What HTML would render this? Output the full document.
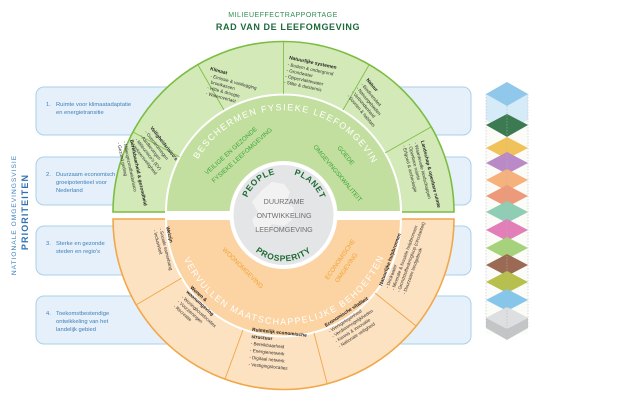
<!DOCTYPE html>
<html><head><meta charset="utf-8"><style>
body{margin:0;background:#fff;}
svg{display:block;font-family:"Liberation Sans",sans-serif;}
.seg{font-size:4.6px;fill:#333;}
.segb{font-size:4.8px;fill:#222;font-weight:bold;}
.box{fill:#e5f0fa;stroke:#a9d0ea;stroke-width:1;}
.bt{font-size:5.8px;fill:#3f7fb9;}
</style></head><body>
<svg width="639" height="402" viewBox="0 0 639 402" xmlns="http://www.w3.org/2000/svg">
<defs>
<path id="topArc" d="M 196.4 162.0 A 100 100 0 0 1 371.6 162.0"/>
<path id="botArc" d="M 182.5 255.0 A 108 108 0 0 0 384.5 255.0"/>
<path id="peopleArc" d="M 245 205 A 40 40 0 0 1 283 173"/>
<path id="planetArc" d="M 283 173 A 40 40 0 0 1 323 210"/>
<path id="prospArc" d="M 242 232 A 44 44 0 0 0 325 232"/>
</defs>

<!-- title -->
<text x="283" y="17" text-anchor="middle" font-size="7" fill="#2f8c50" letter-spacing="0.5">MILIEUEFFECTRAPPORTAGE</text>
<text x="288" y="30" text-anchor="middle" font-size="9" font-weight="bold" fill="#1f6a3b" letter-spacing="0.6">RAD VAN DE LEEFOMGEVING</text>

<!-- vertical labels -->
<text transform="translate(16,215) rotate(-90)" text-anchor="middle" font-size="6.6" fill="#3f80bb" letter-spacing="1">NATIONALE  OMGEVINGSVISIE</text>
<text transform="translate(28,212) rotate(-90)" text-anchor="middle" font-size="9" font-weight="bold" fill="#2f72b2" letter-spacing="1.1">PRIORITEITEN</text>

<!-- boxes -->
<rect class="box" x="36" y="87" width="435" height="48" rx="8"/>
<rect class="box" x="36" y="157" width="435" height="48" rx="8"/>
<rect class="box" x="36" y="226" width="435" height="49" rx="8"/>
<rect class="box" x="36" y="296" width="435" height="48" rx="8"/>
<text class="bt" x="46" y="106">1.</text><text class="bt" x="56" y="106">Ruimte voor klimaatadaptatie</text><text class="bt" x="56" y="114">en energietransitie</text>
<text class="bt" x="46" y="176">2.</text><text class="bt" x="56" y="176">Duurzaam economisch</text><text class="bt" x="56" y="184">groeipotentieel voor</text><text class="bt" x="56" y="192">Nederland</text>
<text class="bt" x="46" y="245">3.</text><text class="bt" x="56" y="245">Sterke en gezonde</text><text class="bt" x="56" y="253">steden en regio's</text>
<text class="bt" x="46" y="315">4.</text><text class="bt" x="56" y="315">Toekomstbestendige</text><text class="bt" x="56" y="323">ontwikkeling van het</text><text class="bt" x="56" y="331">landelijk gebied</text>

<!-- wheel green -->
<path d="M 113 212 A 170.5 170.5 0 0 1 454 212 Z" fill="#d3e9b7" stroke="#7bbd41" stroke-width="1.6"/>
<path d="M 166 212 A 117.5 117.5 0 0 1 401 212 Z" fill="#c3df9f" stroke="#fff" stroke-width="2"/>
<!-- wheel orange -->
<path d="M 113 219 A 170.5 170.5 0 0 0 454 219 Z" fill="#fde2c1" stroke="#f0a84a" stroke-width="1.6"/>
<path d="M 166 219 A 117.5 117.5 0 0 0 401 219 Z" fill="#fcd3a2" stroke="#fff" stroke-width="2"/>

<g stroke="#82c04a" stroke-width="0.9">
<line x1="179.7" y1="157" x2="133" y2="132"/>
<line x1="224" y1="110" x2="198" y2="65"/>
<line x1="283.5" y1="94" x2="283.5" y2="42"/>
<line x1="343" y1="110" x2="369" y2="65"/>
<line x1="385" y1="153" x2="431" y2="127"/>
</g>
<g stroke="#efa64a" stroke-width="0.9">
<line x1="181.7" y1="278" x2="136" y2="305"/>
<line x1="243" y1="330" x2="225" y2="379"/>
<line x1="314" y1="333" x2="327" y2="383"/>
<line x1="375" y1="293" x2="416" y2="326"/>
</g>

<!-- curved band labels -->
<text font-size="9" fill="#fff"><textPath href="#topArc" startOffset="3" textLength="220" lengthAdjust="spacing">BESCHERMEN  FYSIEKE LEEFOMGEVING</textPath></text>
<text font-size="9" fill="#fff"><textPath href="#botArc" startOffset="4" textLength="254" lengthAdjust="spacing">VERVULLEN MAATSCHAPPELIJKE BEHOEFTEN</textPath></text>

<!-- middle band labels -->
<g fill="#3aa63a" font-size="6.3">
<text transform="translate(207,175) rotate(-42)">VEILIGE EN GEZONDE</text>
<text transform="translate(214,183) rotate(-42)">FYSIEKE LEEFOMGEVING</text>
<text transform="translate(337,148) rotate(50)">GOEDE</text>
<text transform="translate(313,147) rotate(50)">OMGEVINGSKWALITEIT</text>
</g>
<g fill="#f0a435" font-size="6.3">
<text transform="translate(222,250) rotate(45)">WOONOMGEVING</text>
<text transform="translate(328,280) rotate(-55)">ECONOMISCHE</text>
<text transform="translate(338,283) rotate(-55)">OMGEVING</text>
</g>

<!-- center -->
<circle cx="283.5" cy="215" r="52" fill="#e4e5e6" stroke="#fff" stroke-width="4"/>
<path d="M262 190 l10 -8 l12 2 l6 8 l-4 10 l8 6 l-2 12 l-8 6 l-12 -2 l-6 8 l-10 -2 l-4 -10 l6 -8 l-6 -10 z" fill="#f2f2f2"/>
<text font-size="8.5" font-weight="bold" fill="#1d6b36" letter-spacing="0.6"><textPath href="#peopleArc" startOffset="50%" text-anchor="middle">PEOPLE</textPath></text>
<text font-size="8.5" font-weight="bold" fill="#1d6b36" letter-spacing="0.6"><textPath href="#planetArc" startOffset="50%" text-anchor="middle">PLANET</textPath></text>
<text font-size="8.5" font-weight="bold" fill="#1d6b36" letter-spacing="0.6"><textPath href="#prospArc" startOffset="50%" text-anchor="middle">PROSPERITY</textPath></text>
<g fill="#707070" font-size="7.2" text-anchor="middle">
<text x="284" y="204">DUURZAME</text>
<text x="284" y="218">ONTWIKKELING</text>
<text x="284" y="232">LEEFOMGEVING</text>
</g>

<!-- segment texts green -->
<g transform="translate(210,70) rotate(15)">
<text class="segb" x="0" y="0">Klimaat</text>
<text class="seg" x="2" y="7">- Emissie &amp; vastlegging</text>
<text class="seg" x="4" y="13">broeikassen</text>
<text class="seg" x="2" y="19">- Hitte &amp; droogte</text>
<text class="seg" x="2" y="25">- Wateroverlast</text>
</g>
<g transform="translate(289,59) rotate(12)">
<text class="segb" x="0" y="0">Natuurlijke systemen</text>
<text class="seg" x="0" y="7">- Bodem &amp; ondergrond</text>
<text class="seg" x="0" y="13">- Grondwater</text>
<text class="seg" x="0" y="19">- Oppervlaktewater</text>
<text class="seg" x="0" y="25">- Stilte &amp; duisternis</text>
</g>
<g transform="translate(150,128) rotate(52)">
<text class="segb" x="0" y="0">Veiligheidsrisico's</text>
<text class="seg" x="0" y="7">- Overstromingen</text>
<text class="seg" x="0" y="13">- Aardbevingen</text>
<text class="seg" x="0" y="19">- Milieurisico's (EV)</text>
<text class="seg" x="0" y="25">- Verkeersveiligheid</text>
</g>
<g transform="translate(130,140) rotate(78)">
<text class="segb" x="0" y="0">Bereikbaarheid &amp; gezondheid</text>
<text class="seg" x="0" y="7">- Milieugezondheidsrisico</text>
<text class="seg" x="0" y="13">- Gezond gedrag</text>
</g>
<g transform="translate(366,80) rotate(50)">
<text class="segb" x="0" y="0">Natuur</text>
<text class="seg" x="0" y="7">- Biodiversiteit</text>
<text class="seg" x="0" y="13">- Natuurgebieden</text>
<text class="seg" x="0" y="19">- Verbondenheid</text>
<text class="seg" x="0" y="25">- Soorten &amp; habitats</text>
</g>
<g transform="translate(421,141) rotate(76)">
<text class="segb" x="0" y="0">Landschap &amp; openbare ruimte</text>
<text class="seg" x="0" y="7">- Waardevolle landschappen</text>
<text class="seg" x="0" y="13">- Openbare ruimte</text>
<text class="seg" x="0" y="19">- Erfgoed &amp; archeologie</text>
</g>

<!-- segment texts orange -->
<g transform="translate(166,227) rotate(76)">
<text class="segb" x="0" y="0">Welzijn</text>
<text class="seg" x="0" y="7">- Sociale samenhang</text>
<text class="seg" x="0" y="13">- Inclusiviteit</text>
</g>
<g transform="translate(190,288) rotate(42)">
<text class="segb" x="0" y="0">Wonen &amp;</text>
<text class="segb" x="0" y="6">woonomgeving</text>
<text class="seg" x="0" y="13">- Woningbouwlocaties</text>
<text class="seg" x="0" y="19">- Voorzieningen</text>
<text class="seg" x="0" y="25">- Recreatie</text>
</g>
<g transform="translate(252,331) rotate(6)">
<text class="segb" x="0" y="0">Ruimtelijk economische</text>
<text class="segb" x="0" y="7">structuur</text>
<text class="seg" x="0" y="14">- Bereikbaarheid</text>
<text class="seg" x="0" y="21">- Energienetwerk</text>
<text class="seg" x="0" y="28">- Digitaal netwerk</text>
<text class="seg" x="0" y="35">- Vestigingslocaties</text>
</g>
<g transform="translate(326,327) rotate(-33)">
<text class="segb" x="0" y="0">Economische vitaliteit</text>
<text class="seg" x="0" y="7">- Werkgelegenheid</text>
<text class="seg" x="0" y="13">- Verdienmogelijkheden</text>
<text class="seg" x="0" y="19">- Kennis &amp; innovatie</text>
<text class="seg" x="0" y="25">- Nationale veiligheid</text>
</g>
<g transform="translate(382,286) rotate(-70)">
<text class="segb" x="0" y="0">Natuurlijke hulpbronnen</text>
<text class="seg" x="0" y="7">- Drinkwater</text>
<text class="seg" x="0" y="13">- Minerale &amp; fossiele hulpbronnen</text>
<text class="seg" x="0" y="19">- Grondstoffenkringloop (circulariteit)</text>
<text class="seg" x="0" y="25">- Duurzaam landgebruik</text>
</g>

<!-- tower -->
<g>
<rect x="486" y="94" width="42" height="240" fill="#fbfbf8"/>
<path d="M486 94 L507 82 L528 94 L528 120 L507 132 L486 120 Z" fill="#d5ebf7"/>
<path d="M486 94 L507 82 L528 94 L507 106 Z" fill="#8fc8ea"/>
<path d="M486 125 L507 114 L528 125 L507 137 Z" fill="#3c7a52"/>
<path d="M486 148 L507 137 L528 148 L507 159 Z" fill="#f2c25a"/>
<path d="M486 163 L507 152 L528 163 L507 174 Z" fill="#b98ac6"/>
<path d="M486 180 L507 169 L528 180 L507 191 Z" fill="#f5b27d"/>
<path d="M486 196 L507 185 L528 196 L507 207 Z" fill="#ec9a7a"/>
<path d="M486 212 L507 201 L528 212 L507 223 Z" fill="#8fcdb5"/>
<path d="M486 230 L507 219 L528 230 L507 241 Z" fill="#e27fb8"/>
<path d="M486 248 L507 237 L528 248 L507 259 Z" fill="#a6d27c"/>
<path d="M486 265 L507 254 L528 265 L507 276 Z" fill="#9b6a55"/>
<path d="M486 282 L507 271 L528 282 L507 293 Z" fill="#b7bf4d"/>
<path d="M486 300 L507 289 L528 300 L507 311 Z" fill="#86c6ea"/>
<path d="M486 318 L507 307 L528 318 L528 328 L507 340 L486 328 Z" fill="#c4c5c7"/>
<path d="M486 318 L507 307 L528 318 L507 329 Z" fill="#dedfe0"/>
<g stroke="#b5b5b5" stroke-width="0.5" stroke-dasharray="1.5,1.5" fill="none">
<line x1="486" y1="94" x2="486" y2="328"/><line x1="528" y1="94" x2="528" y2="328"/><line x1="507" y1="106" x2="507" y2="340"/>
</g>
</g>
</svg>
</body></html>
